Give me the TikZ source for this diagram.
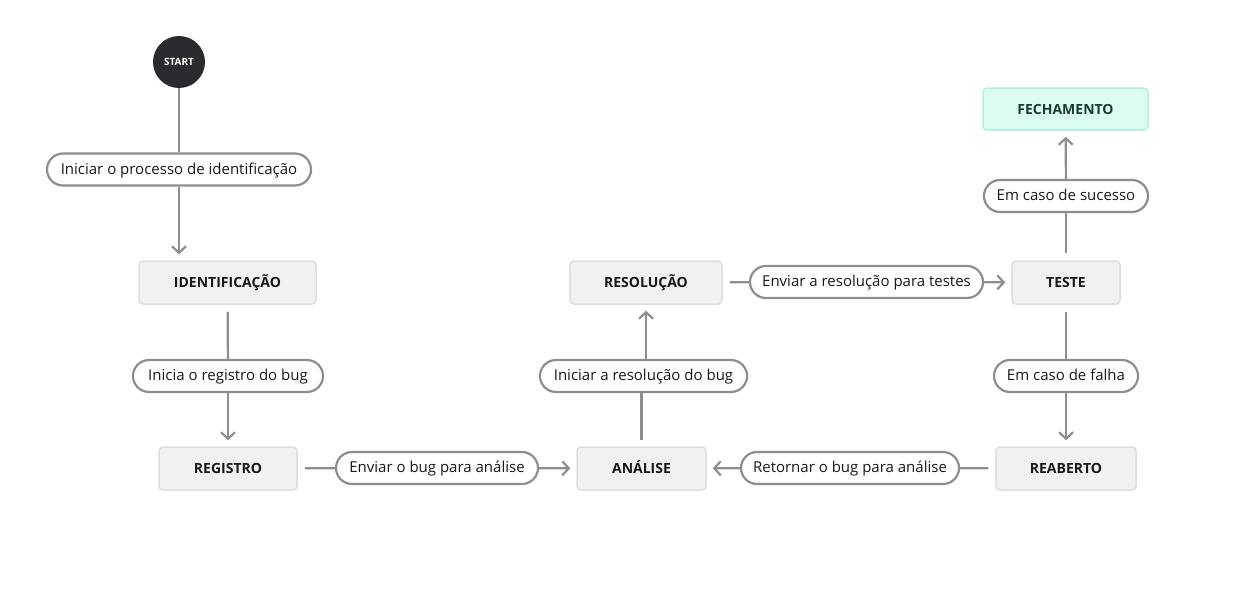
\documentclass[tikz,border=0pt]{standalone}
\usepackage{fontspec}
\setmainfont{Open Sans}
\usetikzlibrary{arrows.meta,calc}
\definecolor{conn}{HTML}{8E8D94}
\definecolor{boxfill}{HTML}{F0F1F3}
\definecolor{boxdraw}{HTML}{DCDDE0}
\definecolor{startfill}{HTML}{2A2A2F}
\definecolor{okfill}{HTML}{DCFCEF}
\definecolor{okdraw}{HTML}{B3F0D8}
\definecolor{oktext}{HTML}{173D2E}
\definecolor{txt}{HTML}{18181C}
\begin{document}
\begin{tikzpicture}[x=1pt,y=-1pt,
  every node/.style={font=\fontsize{15}{18}\selectfont, text=txt},
  statebox/.style={draw=boxdraw, fill=boxfill, line width=1.5pt, rounded corners=4pt, inner sep=0pt, text height=10.5pt, text depth=0pt, font=\fontsize{14}{17}\selectfont\bfseries},
  pill/.style={draw=conn, fill=white, line width=2.2pt, rounded corners=16pt, inner sep=0pt, minimum height=32pt, text height=12pt, text depth=2.5pt},
  conline/.style={draw=conn, line width=2.2pt},
  arr/.style={conline, -{Straight Barb[length=6.5pt,width=14pt,line width=2.2pt]}},
  gapA/.style={shorten >=6pt},
  gapB/.style={shorten <=7pt}]
\useasboundingbox (0,0) rectangle (1238,594);
% state nodes
\node[circle, fill=startfill, minimum size=52pt, inner sep=0pt, text=white, font=\fontsize{10}{12}\selectfont\bfseries] (start) at (179,62) {START};
\node[statebox, minimum width=177pt, minimum height=43pt] (ident) at (227.5,282.5) {IDENTIFICAÇÃO};
\node[statebox, minimum width=138pt, minimum height=43pt] (reg) at (228,468.5) {REGISTRO};
\node[statebox, minimum width=129pt, minimum height=43pt] (anal) at (641.5,468.5) {ANÁLISE};
\node[statebox, minimum width=152pt, minimum height=43pt] (resol) at (646,282.5) {RESOLUÇÃO};
\node[statebox, minimum width=108pt, minimum height=43pt] (teste) at (1066,282.5) {TESTE};
\node[statebox, minimum width=140pt, minimum height=43pt] (reab) at (1066,468.5) {REABERTO};
\node[statebox, draw=okdraw, fill=okfill, text=oktext, minimum width=165pt, minimum height=42pt] (fech) at (1065.5,109) {FECHAMENTO};
% labels
\node[pill, minimum width=264pt] (l1) at (179,169.5) {Iniciar o processo de identificação};
\node[pill, minimum width=190pt] (l2) at (228,376) {Inicia o registro do bug};
\node[pill, minimum width=202pt] (l3) at (437,468) {Enviar o bug para análise};
\node[pill, minimum width=207pt] (l4) at (643.5,376) {Iniciar a resolução do bug};
\node[pill, minimum width=233pt] (l5) at (866.5,282) {Enviar a resolução para testes};
\node[pill, minimum width=164pt] (l6) at (1066,196) {Em caso de sucesso};
\node[pill, minimum width=144pt] (l7) at (1066,376) {Em caso de falha};
\node[pill, minimum width=218pt] (l8) at (850,468) {Retornar o bug para análise};
\coordinate (a1) at (641.5,447);
% connectors
\draw[conline] (start) -- (l1);
\draw[arr, gapA] (l1) -- (l1 |- ident.north);
\draw[conline, gapB] (ident) -- (l2);
\draw[arr, gapA] (l2) -- (reg);
\draw[conline, gapB] (reg) -- (l3);
\draw[arr, gapA] (l3) -- (anal);
\draw[conline, gapB] (a1) -- (a1 |- l4.south);
\draw[arr, gapA] (resol.south |- l4.north) -- (resol.south);
\draw[conline, gapB] (resol) -- (l5);
\draw[arr, gapA] (l5) -- (teste);
\draw[conline, gapB] (teste) -- (l6);
\draw[arr, gapA] (l6) -- (fech);
\draw[conline, gapB] (teste) -- (l7);
\draw[arr, gapA] (l7) -- (reab);
\draw[conline, gapB] (reab) -- (l8);
\draw[arr, gapA] (l8) -- (anal);
\end{tikzpicture}
\end{document}
